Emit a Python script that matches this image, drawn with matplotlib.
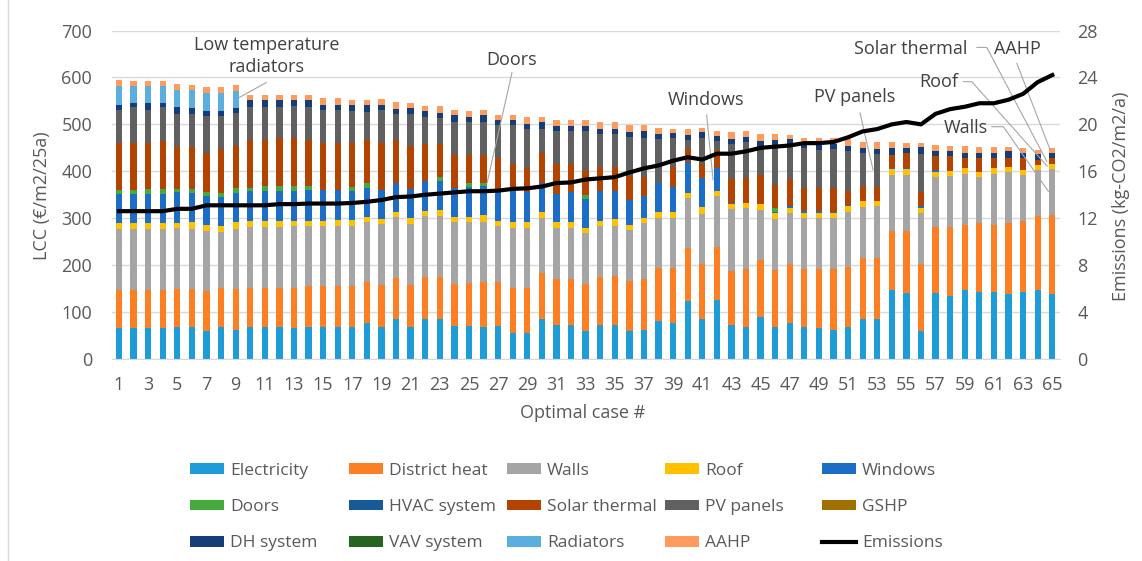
import numpy as np
import matplotlib.pyplot as plt
from matplotlib.patches import Patch
from matplotlib.lines import Line2D

plt.rcParams['font.family'] = ['Open Sans', 'DejaVu Sans']

# LCC components per optimal case (€/m2/25a), stacked bottom to top
cases = list(range(1, 66))
electricity = [65, 65, 65, 65, 68, 68, 59, 68, 62, 68, 68, 68, 65, 68, 68, 68, 68, 76, 68, 85,
               68, 85, 85, 70, 70, 68, 70, 56, 56, 85, 73, 73, 59, 73, 73, 59, 62, 82, 76, 124,
               85, 126, 73, 68, 90, 68, 76, 68, 65, 62, 68, 85, 85, 146, 141, 59, 141, 135, 146, 143,
               143, 138, 143, 146, 138]
district_heat = [82, 82, 82, 82, 82, 82, 85, 84, 87, 84, 84, 84, 87, 87, 87, 87, 87, 87, 90, 87,
                 90, 90, 90, 90, 92, 95, 95, 95, 95, 98, 98, 98, 101, 101, 104, 107, 109, 112, 118, 112,
                 118, 112, 115, 124, 121, 121, 126, 124, 127, 129, 129, 131, 131, 126, 131, 143, 140, 146, 140, 146,
                 143, 151, 151, 159, 168]
walls = [129, 129, 129, 129, 129, 128, 128, 118, 129, 129, 129, 129, 132, 129, 129, 129, 129, 129, 129, 131,
         129, 129, 129, 132, 129, 129, 118, 129, 129, 117, 109, 109, 109, 109, 107, 109, 118, 106, 106, 107,
         106, 109, 131, 129, 106, 109, 109, 109, 109, 109, 117, 107, 109, 121, 121, 109, 107, 109, 109, 98,
         109, 109, 98, 98, 98]
roof = [13, 13, 13, 13, 11, 14, 14, 13, 13, 14, 14, 14, 11, 11, 11, 13, 13, 11, 11, 11,
        14, 11, 14, 11, 11, 14, 11, 11, 11, 14, 11, 11, 11, 11, 14, 11, 11, 14, 14, 11,
        14, 11, 11, 11, 14, 14, 11, 11, 11, 11, 11, 14, 11, 11, 11, 11, 11, 11, 11, 11,
        11, 11, 11, 11, 11]
windows = [62, 62, 62, 62, 65, 62, 62, 62, 62, 62, 62, 62, 62, 65, 65, 63, 62, 62, 62, 62,
           62, 65, 62, 62, 65, 62, 66, 67, 64, 62, 61, 64, 61, 65, 61, 53, 48, 62, 53, 65,
           62, 48, 3, 0, 0, 2, 3, 3, 3, 3, 3, 0, 0, 3, 3, 3, 3, 0, 0, 0,
           0, 0, 0, 0, 0]
doors = [9, 9, 11, 11, 8, 8, 8, 8, 11, 8, 11, 11, 11, 8, 0, 0, 8, 11, 0, 0,
         0, 0, 8, 0, 8, 8, 0, 3, 0, 0, 0, 0, 9, 0, 0, 0, 0, 0, 0, 0,
         0, 0, 0, 0, 0, 7, 0, 0, 0, 0, 0, 0, 0, 0, 0, 0, 0, 0, 0, 0,
         0, 0, 0, 0, 0]
hvac_system = [0] * 65
solar_thermal = [101, 101, 99, 102, 89, 89, 82, 94, 90, 102, 99, 102, 102, 99, 101, 101, 93, 90, 101, 90,
                 90, 79, 70, 70, 59, 59, 69, 54, 51, 62, 63, 60, 51, 51, 51, 50, 39, 0, 43, 28,
                 31, 39, 50, 53, 62, 50, 59, 50, 50, 50, 31, 31, 31, 28, 31, 31, 31, 31, 23, 31,
                 23, 20, 26, 11, 14]
pv_panels = [70, 75, 70, 72, 71, 71, 79, 70, 70, 70, 70, 67, 70, 70, 70, 70, 69, 61, 70, 56,
             70, 56, 56, 70, 70, 70, 70, 84, 84, 53, 70, 70, 84, 70, 70, 84, 84, 92, 61, 19,
             56, 19, 75, 78, 61, 84, 75, 84, 81, 84, 84, 70, 70, 0, 0, 81, 0, 0, 0, 0,
             0, 0, 0, 0, 0]
gshp = [0] * 65
dh_system = [11, 9, 14, 9, 13, 13, 11, 11, 11, 14, 14, 14, 11, 14, 11, 11, 12, 14, 11, 11,
             11, 14, 11, 14, 11, 14, 11, 11, 11, 14, 11, 11, 11, 11, 11, 11, 14, 11, 11, 11,
             11, 11, 11, 11, 11, 11, 9, 14, 17, 11, 11, 11, 11, 14, 11, 14, 11, 11, 11, 11,
             11, 14, 11, 11, 11]
vav_system = [0] * 65
radiators = [39, 36, 36, 36, 38, 38, 38, 38, 36] + [0] * 56
aahp = [14, 12, 12, 12, 11, 11, 13, 13, 12, 11, 11, 11, 11, 11, 14, 14, 11, 11, 11, 14,
        11, 11, 14, 11, 14, 11, 11, 11, 14, 11, 14, 14, 14, 14, 14, 14, 14, 14, 9, 14,
        9, 11, 14, 11, 14, 14, 9, 9, 9, 11, 14, 14, 14, 14, 11, 9, 11, 11, 14, 11,
        11, 9, 9, 9, 9]

# Emissions (kg-CO2/m2/a), right axis
emissions = [12.6, 12.6, 12.6, 12.6, 12.8, 12.8, 13.1, 13.1, 13.1, 13.1, 13.1, 13.2, 13.2, 13.25, 13.25, 13.25, 13.3, 13.4, 13.55, 13.8,
             13.85, 14.0, 14.1, 14.2, 14.3, 14.3, 14.35, 14.5, 14.55, 14.7, 15.0, 15.05, 15.3, 15.4, 15.5, 15.9, 16.25, 16.5, 16.9, 17.2,
             17.0, 17.5, 17.5, 17.7, 18.0, 18.1, 18.2, 18.4, 18.4, 18.5, 18.9, 19.4, 19.6, 20.0, 20.2, 20.0, 20.9, 21.3, 21.5, 21.8,
             21.8, 22.1, 22.6, 23.6, 24.2]

series = [
    ("Electricity", electricity, "#1E9CD7"),
    ("District heat", district_heat, "#FD7F23"),
    ("Walls", walls, "#A5A5A5"),
    ("Roof", roof, "#FFC000"),
    ("Windows", windows, "#1C6DC6"),
    ("Doors", doors, "#44AA3C"),
    ("HVAC system", hvac_system, "#175A97"),
    ("Solar thermal", solar_thermal, "#B24300"),
    ("PV panels", pv_panels, "#606060"),
    ("GSHP", gshp, "#A07000"),
    ("DH system", dh_system, "#143D7A"),
    ("VAV system", vav_system, "#276421"),
    ("Radiators", radiators, "#5AAFDF"),
    ("AAHP", aahp, "#FF9B5C"),
]

text_col = "#595959"
grid_col = "#D9D9D9"
fs = 13

fig = plt.figure(figsize=(11.42, 5.61), dpi=100)
ax = fig.add_axes([0.0978, 0.3601, 0.8300, 0.5855])

bottom = np.zeros(len(cases))
for name, vals, col in series:
    ax.bar(cases, vals, bottom=bottom, width=0.43, color=col, label=name, zorder=2)
    bottom += np.array(vals)

ax.set_xlim(0.5, 65.5)
ax.set_ylim(0, 700)
ax.set_yticks(range(0, 701, 100))
ax.set_xticks(range(1, 66, 2))
ax.yaxis.grid(True, color=grid_col, lw=1)
ax.set_axisbelow(True)
for s in ax.spines.values():
    s.set_visible(False)
ax.spines['bottom'].set_visible(True)
ax.spines['bottom'].set_color(grid_col)
ax.tick_params(axis='both', length=0, labelsize=fs, colors=text_col)
ax.tick_params(axis='y', pad=14)
ax.tick_params(axis='x', pad=12)

ax2 = ax.twinx()
ax2.plot(cases, emissions, color='black', lw=3, zorder=5)
ax2.set_ylim(0, 28)
ax2.set_yticks(range(0, 29, 4))
for s in ax2.spines.values():
    s.set_visible(False)
ax2.tick_params(axis='y', length=0, labelsize=fs, colors=text_col, pad=13)

fig.text(42 / 1142, 1 - 196 / 561, "LCC (€/m2/25a)", rotation=90, ha='center', va='center',
         fontsize=fs, color=text_col)
fig.text(1121 / 1142, 1 - 196 / 561, "Emissions (kg-CO2/m2/a)", rotation=90, ha='center', va='center',
         fontsize=fs, color=text_col)
fig.text(583 / 1142, 1 - 413 / 561, "Optimal case #", ha='center', va='center',
         fontsize=fs, color=text_col)

# callouts: text, text position, alignment, leader line points (case #, LCC)
ann_col = "#404040"
lead_col = "#A6A6A6"
callouts = [
    ("Low temperature\nradiators", (11.15, 645), 'center', [(11.09, 589), (9.23, 557)]),
    ("Doors", (27.95, 637), 'center', [(27.95, 610), (26.24, 375)]),
    ("Windows", (41.26, 552), 'center', [(41.3, 520), (41.74, 382)]),
    ("PV panels", (51.48, 558), 'center', [(51.82, 524), (52.71, 403)]),
    ("Solar thermal", (59.2, 661), 'right', [(59.83, 664), (60.51, 664), (64.63, 421)]),
    ("AAHP", (62.59, 661), 'center', [(62.57, 630), (64.85, 446)]),
    ("Roof", (58.54, 591), 'right', [(58.91, 591), (59.48, 591), (64.65, 411)]),
    ("Walls", (60.6, 493), 'right', [(60.86, 495), (61.65, 495), (64.74, 357)]),
]
for txt, (tx, ty), ha, pts in callouts:
    ax.text(tx, ty, txt, ha=ha, va='center', fontsize=fs, color=ann_col, linespacing=1.3, zorder=6)
    xs = [p[0] for p in pts]
    ys = [p[1] for p in pts]
    ax.plot(xs, ys, color=lead_col, lw=0.8, zorder=6)

# legend laid out in 5 evenly spaced columns, row-wise order like the original
handles = {name: Patch(facecolor=col, edgecolor='none') for name, _, col in series}
handles["Emissions"] = Line2D([0], [0], color='black', lw=3)
columns = [["Electricity", "Doors", "DH system"],
           ["District heat", "HVAC system", "VAV system"],
           ["Walls", "Solar thermal", "Radiators"],
           ["Roof", "PV panels", "AAHP"],
           ["Windows", "GSHP", "Emissions"]]
col_x = [190, 349, 507, 665, 822]
for names, x in zip(columns, col_x):
    fig.legend([handles[n] for n in names], names, loc='upper left',
               bbox_to_anchor=(x / 1142, 1 - 463 / 561), frameon=False, fontsize=12.5,
               labelcolor=text_col, handlelength=1.96, handleheight=0.58, handletextpad=0.35,
               labelspacing=1.16, borderpad=0, borderaxespad=0)

fig.add_artist(Line2D([8 / 1142, 8 / 1142], [0, 1], color=grid_col, lw=1))

fig.savefig("out.png", dpi=100)
